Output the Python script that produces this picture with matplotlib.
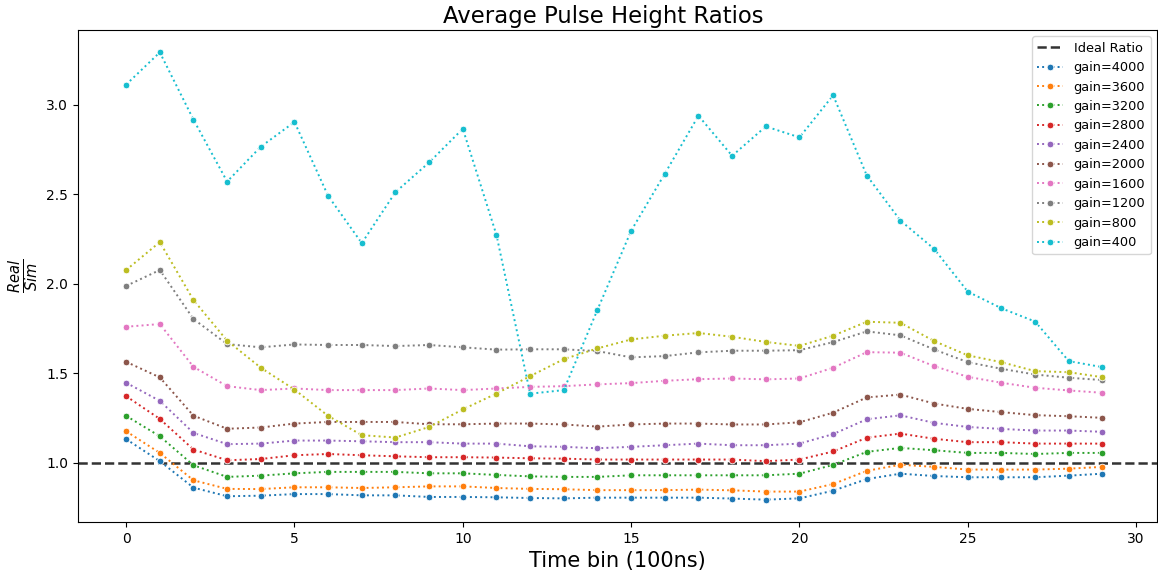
import matplotlib
matplotlib.use("Agg")
import matplotlib.pyplot as plt
import numpy as np

# Time bins (units of 100 ns)
time_bins = list(range(30))

gains = [4000, 3600, 3200, 2800, 2400, 2000, 1600, 1200, 800, 400]

ratio_4000 = [1.133, 1.010, 0.862, 0.814, 0.817, 0.826, 0.826, 0.819, 0.819, 0.810,
              0.810, 0.808, 0.804, 0.802, 0.806, 0.806, 0.806, 0.806, 0.801, 0.795,
              0.802, 0.845, 0.910, 0.940, 0.927, 0.920, 0.920, 0.920, 0.929, 0.940]
ratio_3600 = [1.177, 1.056, 0.903, 0.855, 0.854, 0.864, 0.864, 0.860, 0.864, 0.869,
              0.869, 0.860, 0.855, 0.853, 0.848, 0.848, 0.848, 0.851, 0.847, 0.840,
              0.840, 0.882, 0.956, 0.990, 0.978, 0.963, 0.963, 0.963, 0.968, 0.978]
ratio_3200 = [1.263, 1.149, 0.987, 0.922, 0.929, 0.942, 0.950, 0.950, 0.950, 0.942,
              0.942, 0.933, 0.925, 0.922, 0.922, 0.931, 0.931, 0.931, 0.931, 0.931,
              0.940, 0.989, 1.062, 1.084, 1.071, 1.056, 1.056, 1.050, 1.056, 1.056]
ratio_2800 = [1.373, 1.246, 1.075, 1.015, 1.022, 1.043, 1.050, 1.043, 1.037, 1.032,
              1.032, 1.030, 1.026, 1.024, 1.019, 1.019, 1.019, 1.019, 1.019, 1.010,
              1.019, 1.064, 1.141, 1.164, 1.135, 1.116, 1.116, 1.108, 1.108, 1.108]
ratio_2400 = [1.448, 1.347, 1.168, 1.105, 1.108, 1.125, 1.125, 1.121, 1.116, 1.116,
              1.108, 1.108, 1.093, 1.090, 1.082, 1.090, 1.099, 1.108, 1.099, 1.099,
              1.108, 1.161, 1.244, 1.266, 1.224, 1.201, 1.190, 1.181, 1.181, 1.174]
ratio_2000 = [1.565, 1.478, 1.264, 1.191, 1.198, 1.220, 1.229, 1.229, 1.229, 1.216,
              1.216, 1.220, 1.220, 1.215, 1.203, 1.215, 1.220, 1.220, 1.215, 1.215,
              1.227, 1.281, 1.366, 1.382, 1.332, 1.302, 1.284, 1.267, 1.261, 1.252]
ratio_1600 = [1.761, 1.776, 1.537, 1.429, 1.407, 1.416, 1.407, 1.407, 1.407, 1.416,
              1.407, 1.416, 1.425, 1.429, 1.439, 1.446, 1.459, 1.468, 1.472, 1.467,
              1.472, 1.532, 1.619, 1.616, 1.541, 1.481, 1.448, 1.420, 1.405, 1.392]
ratio_1200 = [1.989, 2.078, 1.804, 1.664, 1.646, 1.662, 1.659, 1.659, 1.653, 1.659,
              1.646, 1.633, 1.635, 1.635, 1.625, 1.590, 1.597, 1.618, 1.627, 1.627,
              1.630, 1.675, 1.735, 1.713, 1.634, 1.563, 1.526, 1.494, 1.476, 1.463]
ratio_800 = [2.078, 2.234, 1.910, 1.683, 1.532, 1.410, 1.263, 1.155, 1.142, 1.201,
             1.299, 1.388, 1.485, 1.580, 1.640, 1.690, 1.711, 1.726, 1.705, 1.676,
             1.654, 1.711, 1.789, 1.783, 1.681, 1.601, 1.563, 1.513, 1.507, 1.479]
ratio_400 = [3.114, 3.294, 2.918, 2.572, 2.767, 2.905, 2.492, 2.228, 2.513, 2.679,
             2.867, 2.274, 1.387, 1.407, 1.856, 2.297, 2.616, 2.940, 2.716, 2.880,
             2.819, 3.054, 2.606, 2.354, 2.196, 1.957, 1.864, 1.790, 1.569, 1.535]

ratios = [ratio_4000, ratio_3600, ratio_3200, ratio_2800, ratio_2400,
          ratio_2000, ratio_1600, ratio_1200, ratio_800, ratio_400]

colors = plt.get_cmap("tab10").colors

W, H = 1158, 574
fig = plt.figure(figsize=(W / 100, H / 100), dpi=100)
ax = fig.add_axes([78 / W, 1 - 522 / H, (1157 - 78) / W, (522 - 30) / H])

ax.axhline(1.0, color="k", linestyle="--", linewidth=1.8, alpha=0.8, label="Ideal Ratio")

for gain, vals, col in zip(gains, ratios, colors):
    ax.plot(time_bins, vals, linestyle=":", linewidth=1.4, color=col,
            marker="o", markersize=4.8, markeredgecolor="white",
            markeredgewidth=0.6, label=f"gain={gain}")

ax.set_xlim(-1.43, 30.62)
# Title centred on the figure rather than on the axes
fig.text(603 / W, 1 - 16 / H, "Average Pulse Height Ratios", fontsize=16.4,
         ha="center", va="center")
ax.set_xlabel("Time bin (100ns)", fontsize=15)
ax.set_ylabel(r"$\frac{Real}{Sim}$", fontsize=15)
ax.tick_params(labelsize=10)
ax.legend(loc="upper right", fontsize=9.3)

fig.savefig("out.png", dpi=100)
